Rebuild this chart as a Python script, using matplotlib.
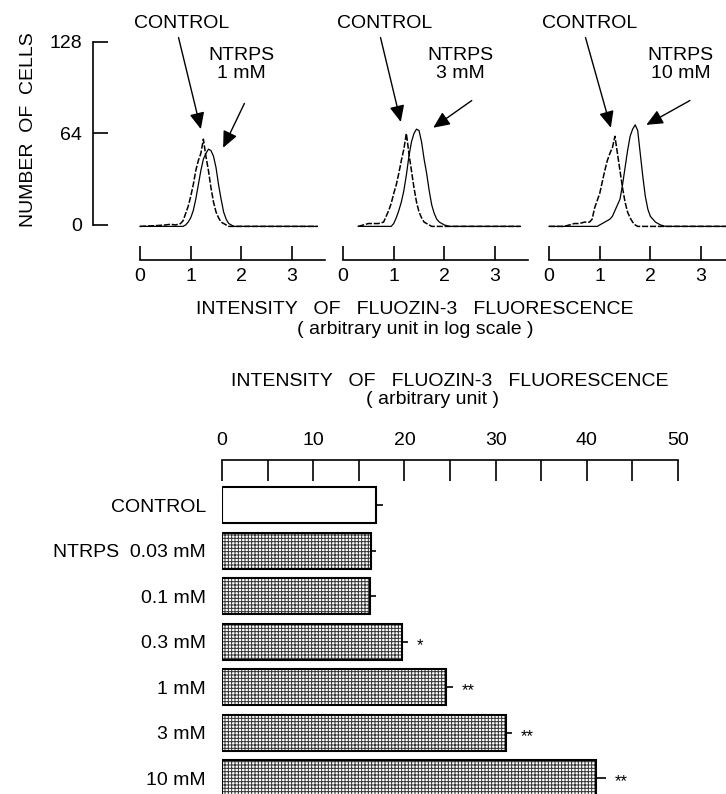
import numpy as np
import matplotlib
matplotlib.use("Agg")
import matplotlib.pyplot as plt

plt.rcParams['font.family'] = ['Liberation Sans', 'DejaVu Sans']
plt.rcParams['hatch.linewidth'] = 0.7

# ---- flow cytometry histograms (log fluorescence vs number of cells) ----
hist_x = [0.0, 0.3, 0.5, 0.6, 0.7, 0.8, 0.85, 0.9, 0.95, 1.0, 1.05, 1.1, 1.15,
          1.2, 1.25, 1.3, 1.35, 1.4, 1.45, 1.5, 1.55, 1.6, 1.65, 1.7, 1.75,
          1.8, 1.85, 1.9, 1.95, 2.0, 2.1, 2.2, 2.3, 2.5, 3.0, 3.5, 3.8]

ctrl_1 = [-1, -0.5, 0, 0.5, 0, 1, 3, 8, 13, 20, 28, 38, 45,
          50, 60, 48, 38, 26, 16, 9, 5, 2, 1, 0, -1,
          -1, -1, -1, -1, -1, -1, -1, -1, -1, -1, -1, np.nan]
ntrps_1 = [-1, -1, -1, -1, -1, -1, -1, 0, 2, 5, 10, 18, 28,
           38, 46, 50, 53, 52, 48, 40, 28, 18, 9, 4, 1,
           0, -1, -1, -1, -1, -1, -1, -1, -1, -1, -1, np.nan]
ctrl_2 = [np.nan, -1, 1, 1, 1, 2, 6, 10, 15, 22, 28, 36, 45,
          53, 64, 50, 38, 26, 16, 9, 5, 2, 1, 0, -1,
          -1, -1, -1, -1, -1, -1, -1, -1, -1, -1, -1, np.nan]
ntrps_2 = [np.nan, -1, -1, -1, -1, -1, -1, -1, -1, 1, 5, 10, 16,
           24, 35, 48, 58, 64, 67, 66, 58, 46, 36, 24, 14,
           8, 4, 2, 1, 0, -1, -1, -1, -1, -1, -1, np.nan]
ctrl_3 = [-1, -1, 1, 1, 2, 2, 4, 12, 17, 22, 30, 38, 45,
          50, 54, 62, 50, 38, 26, 16, 9, 5, 2, 0, -1,
          -1, -1, -1, -1, -1, -1, -1, -1, -1, -1, -1, -1]
ntrps_3 = [-1, -1, -1, -1, -1, -1, -1, -1, -1, 0, 1, 2, 3,
           4, 6, 10, 14, 18, 28, 40, 52, 62, 67, 70, 66,
           50, 34, 20, 11, 6, 2, 0, -1, -1, -1, -1, -1]

doses = ["1 mM", "3 mM", "10 mM"]
hist_ticks = [0, 1, 2, 3]
cell_ticks = [0, 64, 128]

# ---- mean fluorescence bar chart ----
bar_labels = ["CONTROL", "NTRPS  0.03 mM", "0.1 mM", "0.3 mM", "1 mM", "3 mM", "10 mM"]
bar_values = [16.9, 16.3, 16.2, 19.7, 24.6, 31.1, 41.0]
bar_errors = [0.8, 0.6, 0.7, 0.7, 0.7, 0.7, 1.1]
bar_stars = ["", "", "", "*", "**", "**", "**"]
bar_ticks = [0, 10, 20, 30, 40, 50]

W, H = 726, 794
fig = plt.figure(figsize=(W / 100, H / 100), dpi=100, facecolor='white')

def px_axes(left, top, right, bottom):
    return fig.add_axes([left / W, 1 - bottom / H, (right - left) / W, (bottom - top) / H])

# histogram panels: x=0 at these pixel positions, 50 px per unit
x0_px = [140, 343, 549]
ymin, ymax = -24.5, 157.3   # 1.43 px per cell; 0 at y=225 px
fs = 14
curves = [(ctrl_1, ntrps_1), (ctrl_2, ntrps_2), (ctrl_3, ntrps_3)]
# annotation positions in data units: (control text x, control arrow start, control arrow tip,
#   ntrps text x, ntrps arrow start, ntrps arrow tip)
annots = [
    (0.82, (0.76, 131), (1.2, 67), 2.0, (2.06, 85), (1.64, 54)),
    (0.82, (0.74, 131), (1.14, 72), 2.32, (2.54, 87), (1.78, 68)),
    (0.8, (0.72, 131), (1.22, 68), 2.6, (2.78, 87), (1.92, 70)),
]
TITLE = "INTENSITY   OF   FLUOZIN-3   FLUORESCENCE"

for i in range(3):
    x0 = x0_px[i]
    ax = px_axes(x0 - 2.5, 0, x0 + 185, 260)
    ax.set_xlim(-0.05, 3.65)
    ax.set_ylim(ymin, ymax)
    c, n = curves[i]
    ax.plot(hist_x, c, color='black', lw=1.1, ls=(0, (4, 1.2)))
    ax.plot(hist_x, n, color='black', lw=0.9)
    ax.patch.set_visible(False)
    for s in ['top', 'right', 'left']:
        ax.spines[s].set_visible(False)
    ax.spines['bottom'].set_bounds(0, 3.65)
    ax.spines['bottom'].set_linewidth(1.2)
    ax.set_xticks(hist_ticks)
    ax.set_xticklabels([str(t) for t in hist_ticks])
    ax.tick_params(axis='x', direction='in', length=10, width=1.2, pad=6, labelsize=fs)
    if i == 0:
        ax.spines['left'].set_visible(True)
        ax.spines['left'].set_position(('outward', 32))
        ax.spines['left'].set_bounds(0, 128)
        ax.spines['left'].set_linewidth(1.2)
        ax.set_yticks(cell_ticks)
        ax.set_yticklabels([str(t) for t in cell_ticks])
        ax.tick_params(axis='y', direction='in', length=11, width=1.2, pad=8, labelsize=fs)
        ax.set_ylabel("NUMBER  OF  CELLS", fontsize=fs, labelpad=9)
    else:
        ax.set_yticks([])
    ctx, cs, ct, ntx, ns, nt = annots[i]
    ax.text(ctx, 141, "CONTROL", ha='center', va='center', fontsize=fs)
    ax.text(ntx, 112, "NTRPS\n" + doses[i], ha='center', va='center', fontsize=fs,
            linespacing=1.1)
    for s, t in [(cs, ct), (ns, nt)]:
        ax.annotate("", xy=t, xytext=s,
                    arrowprops=dict(arrowstyle='-|>,head_length=1.0,head_width=0.45',
                                    color='black', lw=1.0, shrinkA=0, shrinkB=0))

fig.text(415 / W, 1 - 309 / H, TITLE, ha='center', va='center', fontsize=fs)
fig.text(415 / W, 1 - 329 / H, "( arbitrary unit in log scale )",
         ha='center', va='center', fontsize=fs)

# bar chart
bx = px_axes(222, 460, 678, 794)
pos = np.arange(len(bar_values))
bx.set_ylim(6.35, -0.99)
bx.set_xlim(0, 50)
hatches = [''] + ['+++++'] * (len(bar_values) - 1)
bx.barh(pos, bar_values, height=0.79, color='white', edgecolor='#333333',
        hatch=hatches, linewidth=0)
bx.barh(pos, bar_values, height=0.79, fill=False, edgecolor='black', linewidth=1.5)
bx.errorbar(bar_values, pos, xerr=[np.zeros(len(bar_errors)), bar_errors],
            fmt='none', ecolor='black', elinewidth=1.2, capsize=0)
for p, v, e, s in zip(pos, bar_values, bar_errors, bar_stars):
    if s:
        bx.text(v + e + 1.0, p + 0.08, s, ha='left', va='center', fontsize=12)
for s in ['bottom', 'right', 'left']:
    bx.spines[s].set_visible(False)
bx.spines['top'].set_linewidth(1.2)
bx.xaxis.tick_top()
bx.set_xticks(bar_ticks)
bx.set_xticklabels([str(t) for t in bar_ticks])
bx.set_xticks(np.arange(5, 50, 10), minor=True)
bx.tick_params(axis='x', which='both', direction='in', length=15, width=1.2, pad=8,
               labelsize=fs)
bx.set_yticks(pos)
bx.set_yticklabels(bar_labels, fontsize=fs)
bx.tick_params(axis='y', length=0, pad=11.5)
bx.patch.set_visible(False)

fig.text(450 / W, 1 - 381 / H, TITLE, ha='center', va='center', fontsize=fs)
fig.text(433 / W, 1 - 400 / H, "( arbitrary unit )",
         ha='center', va='center', fontsize=fs)

fig.savefig("out.png", dpi=100, facecolor='white')
